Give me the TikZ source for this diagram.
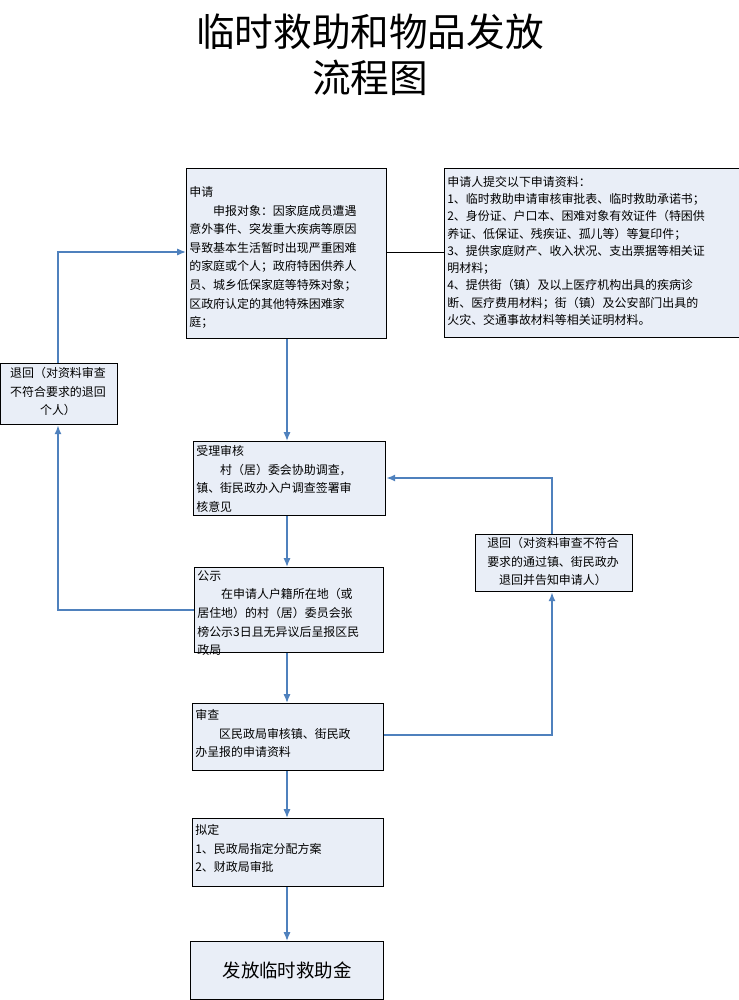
\documentclass[tikz,border=0pt]{standalone}
\usepackage{fontspec}
\setmainfont{Noto Sans CJK SC}
\usetikzlibrary{arrows.meta,positioning}
\definecolor{boxfill}{HTML}{E9EEF7}
\definecolor{linkblue}{HTML}{4F81BD}
\begin{document}
\begin{tikzpicture}
                [
                    x=0.02cm, y=-0.02cm,
                    textbox/.style={rectangle, draw=black, thick, fill=boxfill, anchor=north west, align=left, inner sep=2pt, font=\fontsize{6.8pt}{10.6pt}\selectfont},
                    plain/.style={anchor=north west, align=left, inner sep=0pt, font=\fontsize{6.8pt}{10.6pt}\selectfont},
                    link/.style={draw=linkblue, thick, -{Latex[length=5pt,width=4pt]}}
                ]
                \useasboundingbox (0,0) rectangle (738,1000);

                \node (title) at (370,55) [font=\fontsize{22pt}{26pt}\selectfont, align=center] {临时救助和物品发放\\流程图};

                \node [textbox, minimum width=200*0.02cm, minimum height=170*0.02cm] (apply) at (186,168) {};
                \node [plain] at (189,186) {申请\\\hspace{2em}申报对象：因家庭成员遭遇\\意外事件、突发重大疾病等原因\\导致基本生活暂时出现严重困难\\的家庭或个人；政府特困供养人\\员、城乡低保家庭等特殊对象；\\区政府认定的其他特殊困难家\\庭；};

                \node [textbox, minimum width=296*0.02cm, minimum height=169*0.02cm] (docs) at (444,168) {};
                \node [plain, font=\fontsize{6.8pt}{9.8pt}\selectfont] at (447,176) {申请人提交以下申请资料：\\1、临时救助申请审核审批表、临时救助承诺书；\\2、身份证、户口本、困难对象有效证件（特困供\\养证、低保证、残疾证、孤儿等）等复印件；\\3、提供家庭财产、收入状况、支出票据等相关证\\明材料；\\4、提供街（镇）及以上医疗机构出具的疾病诊\\断、医疗费用材料；街（镇）及公安部门出具的\\火灾、交通事故材料等相关证明材料。};

                \node [textbox, minimum width=117*0.02cm, minimum height=61*0.02cm] (backleft) at (0,363) {};
                \node [plain, align=center, anchor=north] at (58,367) {退回（对资料审查\\不符合要求的退回\\个人）};

                \node [textbox, minimum width=192*0.02cm, minimum height=74*0.02cm] (accept) at (193,441) {};
                \node [plain] at (196,445) {受理审核\\\hspace{2em}村（居）委会协助调查，\\镇、街民政办入户调查签署审\\核意见};

                \node [textbox, minimum width=157*0.02cm, minimum height=57*0.02cm] (backright) at (475,534) {};
                \node [plain, align=center, anchor=north] at (553,537) {退回（对资料审查不符合\\要求的通过镇、街民政办\\退回并告知申请人）};

                \node [textbox, minimum width=189*0.02cm, minimum height=85*0.02cm] (notice) at (194,567) {};
                \node [plain] at (197,570) {公示\\\hspace{2em}在申请人户籍所在地（或\\居住地）的村（居）委员会张\\榜公示3日且无异议后呈报区民\\政局};

                \node [textbox, minimum width=191*0.02cm, minimum height=67*0.02cm] (review) at (192,703) {};
                \node [plain] at (195,709) {审查\\\hspace{2em}区民政局审核镇、街民政\\办呈报的申请资料};

                \node [textbox, minimum width=191*0.02cm, minimum height=68*0.02cm] (plan) at (192,818) {};
                \node [plain] at (195,824) {拟定\\1、民政局指定分配方案\\2、财政局审批};

                \node [textbox, minimum width=193*0.02cm, minimum height=58*0.02cm, align=center, font=\fontsize{10.5pt}{12pt}\selectfont] (grant) at (190,941) {发放临时救助金};

                \coordinate (pl) at (58,610);
                \coordinate (pt) at (58,252);
                \coordinate (pr) at (552,735);
                \coordinate (ptr) at (552,478);

                \draw [link] (apply.south -| 287,0) -- (accept.north -| 287,0);
                \draw [link] (accept.south -| 287,0) -- (notice.north -| 287,0);
                \draw [link] (notice.south -| 287,0) -- (review.north -| 287,0);
                \draw [link] (review.south -| 287,0) -- (plan.north -| 287,0);
                \draw [link] (plan.south -| 287,0) -- (grant.north -| 287,0);
                \draw (apply.east |- 0,252) -- (docs.west |- 0,252);

                \draw [link] (notice.west |- pl) -- (pl) -- (backleft.south -| pl);
                \draw [link] (backleft.north -| pt) -- (pt) -- (apply.west |- pt);
                \draw [link] (review.east |- pr) -- (pr) -- (backright.south -| pr);
                \draw [link] (backright.north -| ptr) -- (ptr) -- (accept.east |- ptr);

            \end{tikzpicture}
\end{document}
